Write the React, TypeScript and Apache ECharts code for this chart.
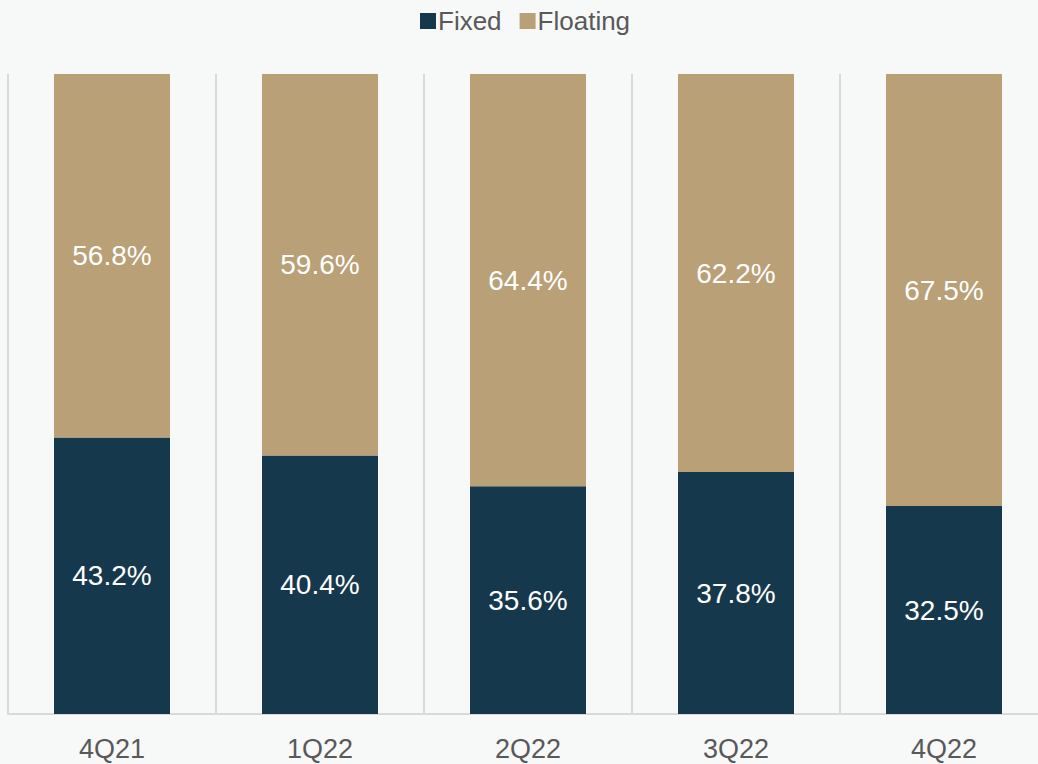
import React, { useEffect, useRef } from "react";
import * as echarts from "echarts";

const categories = ["4Q21", "1Q22", "2Q22", "3Q22", "4Q22"];
const fixedValues = [43.2, 40.4, 35.6, 37.8, 32.5];
const floatingValues = [56.8, 59.6, 64.4, 62.2, 67.5];

export default function App() {
  const ref = useRef<HTMLDivElement>(null);
  useEffect(() => {
    document.body.style.margin = "0";
    document.body.style.overflow = "hidden";
    document.body.style.background = "#f7f8f8";
    const chart = echarts.init(ref.current!, null, { renderer: "svg" });
    const font = "Liberation Sans, Arial, sans-serif";
    const label = {
      show: true,
      position: "inside" as const,
      color: "#ffffff",
      fontSize: 28,
      fontFamily: font,
      formatter: (p: any) => p.value.toFixed(1) + "%",
    };
    chart.setOption({
      animation: false,
      backgroundColor: "#f7f8f8",
      legend: {
        top: 3,
        left: 415,
        itemWidth: 16,
        itemHeight: 16,
        itemGap: 18,
        icon: "rect",
        textStyle: { color: "#595959", fontSize: 26, fontFamily: font, padding: [0, 0, 0, -3] },
        data: ["Fixed", "Floating"],
      },
      grid: { left: 8, top: 74, width: 1040, height: 640 },
      xAxis: {
        type: "category",
        data: categories,
        axisLine: { show: true, lineStyle: { color: "#d9d9d9", width: 2 } },
        axisTick: { show: false },
        splitLine: { show: true, lineStyle: { color: "#d9d9d9", width: 2 } },
        axisLabel: { color: "#595959", fontSize: 27, fontFamily: font, margin: 21 },
      },
      yAxis: {
        type: "value",
        min: 0,
        max: 100,
        show: false,
        splitLine: { show: false },
      },
      series: [
        {
          name: "Fixed",
          type: "bar",
          stack: "total",
          barWidth: 116,
          data: fixedValues,
          itemStyle: { color: "#16384c" },
          label,
        },
        {
          name: "Floating",
          type: "bar",
          stack: "total",
          barWidth: 116,
          data: floatingValues,
          itemStyle: { color: "#b9a077" },
          label,
        },
      ],
    });
    return () => chart.dispose();
  }, []);
  return (
    <div style={{ width: 1038, height: 764, overflow: "hidden", position: "relative" }}>
      <div ref={ref} style={{ width: 1050, height: 764 }} />
    </div>
  );
}
